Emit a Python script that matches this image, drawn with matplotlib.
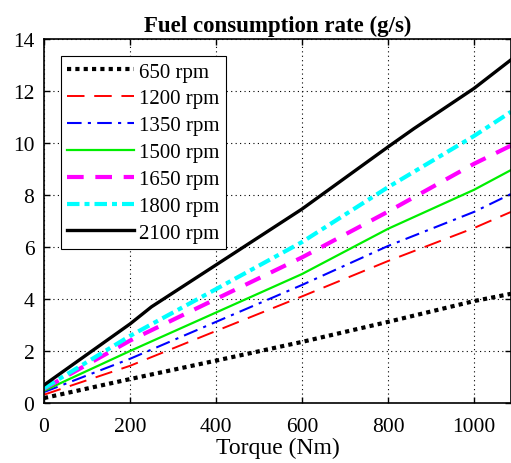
import matplotlib.pyplot as plt

plt.rcParams['font.family'] = ['Liberation Serif', 'DejaVu Serif']

# torque points (Nm) where values were read
torque = [0, 200, 400, 600, 800, 1000, 1086]
torque_2100 = [0, 200, 250, 400, 600, 800, 860, 1000, 1086]

fc_650 = [0.19, 0.92, 1.63, 2.35, 3.12, 3.92, 4.2]
fc_1200 = [0.32, 1.43, 2.77, 4.1, 5.46, 6.73, 7.35]
fc_1350 = [0.42, 1.7, 3.12, 4.54, 6.04, 7.35, 8.04]
fc_1500 = [0.47, 2.0, 3.48, 4.96, 6.7, 8.2, 8.96]
fc_1650 = [0.55, 2.4, 4.0, 5.6, 7.36, 9.2, 9.9]
fc_1800 = [0.57, 2.58, 4.38, 6.19, 8.3, 10.27, 11.2]
fc_2100 = [0.69, 3.04, 3.7, 5.31, 7.46, 9.85, 10.55, 12.1, 13.2]

fig = plt.figure(figsize=(5.11, 4.64), dpi=100)
ax = fig.add_axes([44 / 511, 60 / 464, 467 / 511, 364 / 464])

ax.plot(torque, fc_650, color='black', ls=(0, (1, 1)), lw=3, label='650 rpm')
ax.plot(torque, fc_1200, color='red', ls=(0, (9, 5)), lw=1.4, label='1200 rpm')
ax.plot(torque, fc_1350, color='blue', ls=(0, (7, 3, 1.5, 3)), lw=1.5, label='1350 rpm')
ax.plot(torque, fc_1500, color='#00ee00', ls='-', lw=1.6, label='1500 rpm')
ax.plot(torque, fc_1650, color='magenta', ls=(0, (4, 2.8)), lw=3, label='1650 rpm')
ax.plot(torque, fc_1800, color='cyan', ls=(0, (3, 1.2, 1.2, 1.2)), lw=3, label='1800 rpm')
ax.plot(torque_2100, fc_2100, color='black', ls='-', lw=2.4, label='2100 rpm')

ax.set_xlim(0, 1086)
ax.set_ylim(0, 14)
ax.set_xticks([0, 200, 400, 600, 800, 1000])
ax.set_yticks(range(0, 15, 2))
ax.tick_params(direction='in', labelsize=15.5, length=4, width=1, top=True, right=True)
ax.tick_params(axis='x', pad=10)
ax.tick_params(axis='y', pad=7)
ax.grid(True, color='black', ls=(0, (1, 3)), lw=0.8)
for s in ax.spines.values():
    s.set_linewidth(1.2)

ax.set_title('Fuel consumption rate (g/s)', fontsize=16.5, fontweight='bold', pad=6)
ax.set_xlabel('Torque (Nm)', fontsize=17, labelpad=1)

leg = ax.legend(loc='upper left', fontsize=15, fancybox=False, edgecolor='black',
                framealpha=1, handlelength=3.2, borderaxespad=0.8, labelspacing=0.35,
                handletextpad=0.25, borderpad=0.3)
leg.get_frame().set_linewidth(0.8)

fig.savefig('out.png', dpi=100)
